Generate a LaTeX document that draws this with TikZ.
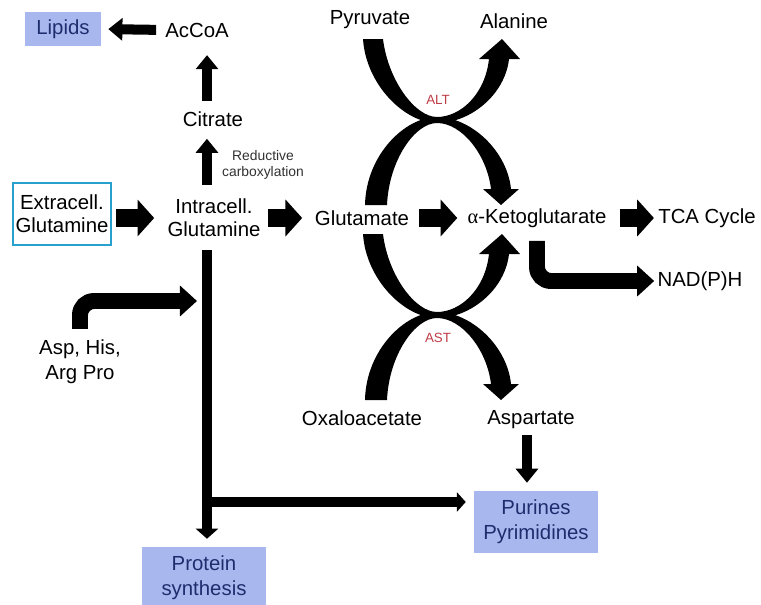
\documentclass[tikz,border=0pt]{standalone}
\usepackage{fontspec}
\setmainfont{Liberation Sans}
\newfontfamily\greekserif{Liberation Serif}
\usetikzlibrary{arrows.meta}

\definecolor{boxblue}{RGB}{168,184,238}
\definecolor{boxtext}{RGB}{30,45,110}
\definecolor{boxline}{RGB}{40,160,205}
\definecolor{enzred}{RGB}{190,60,70}
\definecolor{notegray}{RGB}{50,50,50}

\begin{document}
\begin{tikzpicture}[x=0.02cm,y=-0.02cm,
  lbl/.style={inner sep=0pt,align=center,font=\fontsize{11.6}{13}\selectfont},
  box/.style={lbl,fill=boxblue,text=boxtext},
  enzyme/.style={inner sep=0pt,text=enzred,font=\fontsize{7.6}{8}\selectfont},
  rowarrow/.style={line width=10.2pt,-{Triangle[length=9.5pt,width=20.5pt]}},
  thinarrow/.style={line width=5.7pt,-{Triangle[length=8pt,width=12.5pt]}},
  trunkarrow/.style={line width=6.2pt,-{Triangle[length=5.7pt,width=12.5pt]}},
  bentarrow/.style={line width=9.1pt,rounded corners=8pt,-{Triangle[length=9.7pt,width=17pt]}}]
\useasboundingbox (0,0) rectangle (761,605);

\node[box,minimum width=43.2pt,minimum height=18.8pt] (lipids) at (63,29) {Lipids};
\node[lbl] (accoa) at (197,30) {AcCoA};
\node[lbl] (citrate) at (213,119) {Citrate};
\node[inner sep=0pt,align=center,text=notegray,font=\fontsize{7.9}{9}\selectfont] (reductive) at (263,165) {Reductive\\carboxylation};
\node[lbl,draw=boxline,line width=1.3pt,minimum width=55.8pt,minimum height=35.3pt] (extra) at (62,214) {Extracell.\\Glutamine};
\node[lbl] (intra) at (214,218) {Intracell.\\Glutamine};
\node[lbl] (glu) at (362,218) {Glutamate};
\node[lbl] (akg) at (537,218) {{\greekserif α}-Ketoglutarate};
\node[lbl] (tca) at (707,218) {TCA Cycle};
\node[lbl] (nadph) at (700,281) {NAD(P)H};
\node[lbl] (pyr) at (370,20) {Pyruvate};
\node[lbl] (ala) at (514,21) {Alanine};
\node[enzyme] (alt) at (438,100) {ALT};
\node[enzyme] (ast) at (438,338) {AST};
\node[lbl] (oaa) at (362,418) {Oxaloacetate};
\node[lbl] (asp) at (531,420) {Aspartate};
\node[lbl,font=\fontsize{11.6}{14}\selectfont] (aahis) at (80,362) {Asp, His,\\Arg Pro};
\node[box,font=\fontsize{11.6}{14}\selectfont,minimum width=70.6pt,minimum height=35.3pt] (purines) at (536,522) {Purines\\Pyrimidines};
\node[box,font=\fontsize{11.6}{14}\selectfont,minimum width=71pt,minimum height=35.3pt] (protein) at (204,578) {Protein\\synthesis};

\draw[thinarrow,shorten <=5pt,shorten >=4pt] (accoa.west) -- (lipids.east);
\draw[thinarrow,shorten <=5.7pt,shorten >=10pt] ([xshift=-3.4pt]citrate.north) -- ([xshift=-3.4pt]citrate.north |- accoa.south);
\draw[thinarrow,shorten <=8pt,shorten >=6.8pt] ([xshift=-4pt]intra.north) -- ([xshift=-4pt]intra.north |- citrate.south);

\draw[rowarrow,shorten <=2.3pt,shorten >=7.4pt] (extra.east |- intra) -- (intra.west);
\draw[rowarrow,shorten <=4pt,shorten >=7.1pt] (intra.east) -- (glu.west);
\draw[rowarrow,shorten <=5.4pt,shorten >=5.7pt] (glu.east) -- (akg.west);
\draw[rowarrow,shorten <=7.4pt,shorten >=2.3pt] (akg.east) -- (tca.west);
\draw[bentarrow,shorten <=7.4pt,shorten >=1.7pt] (akg.south) |- (nadph.west);

\coordinate (hisin) at (197,301);
\coordinate (branch) at (207,502);
\draw[bentarrow,shorten <=6.3pt] (aahis.north) |- (hisin);
\draw[trunkarrow,shorten <=7.4pt,shorten >=4.5pt] ([xshift=-4pt]intra.south) -- ([xshift=-4pt]intra.south |- protein.north);
\draw[line width=5.7pt,-{Triangle[length=5pt,width=10.8pt]},shorten >=4.5pt] (branch) -- (branch -| purines.west);
\draw[thinarrow,shorten <=3.4pt,shorten >=4.5pt] ([xshift=-2.3pt]asp.south) -- ([xshift=-2.3pt]asp.south |- purines.north);

\foreach \dy in {0,195} {
  \begin{scope}[shift={(0,\dy)}]
    \fill (363,39) .. controls (366,85) and (405,123) .. (437,123)
      .. controls (470,123) and (505,95) .. (509,59)
      -- (520,59) -- (502,39) -- (479,59) -- (489,59)
      .. controls (485,95) and (460,117) .. (437,117)
      .. controls (415,117) and (388,80) .. (383,39) -- cycle;
    \fill (365,205) .. controls (366,155) and (405,117) .. (437,117)
      .. controls (470,117) and (507,150) .. (511,189)
      -- (519,189) -- (501,205) -- (483,189) -- (491,189)
      .. controls (487,155) and (462,123) .. (437,123)
      .. controls (415,123) and (389,160) .. (387,205) -- cycle;
  \end{scope}
}
\end{tikzpicture}
\end{document}
